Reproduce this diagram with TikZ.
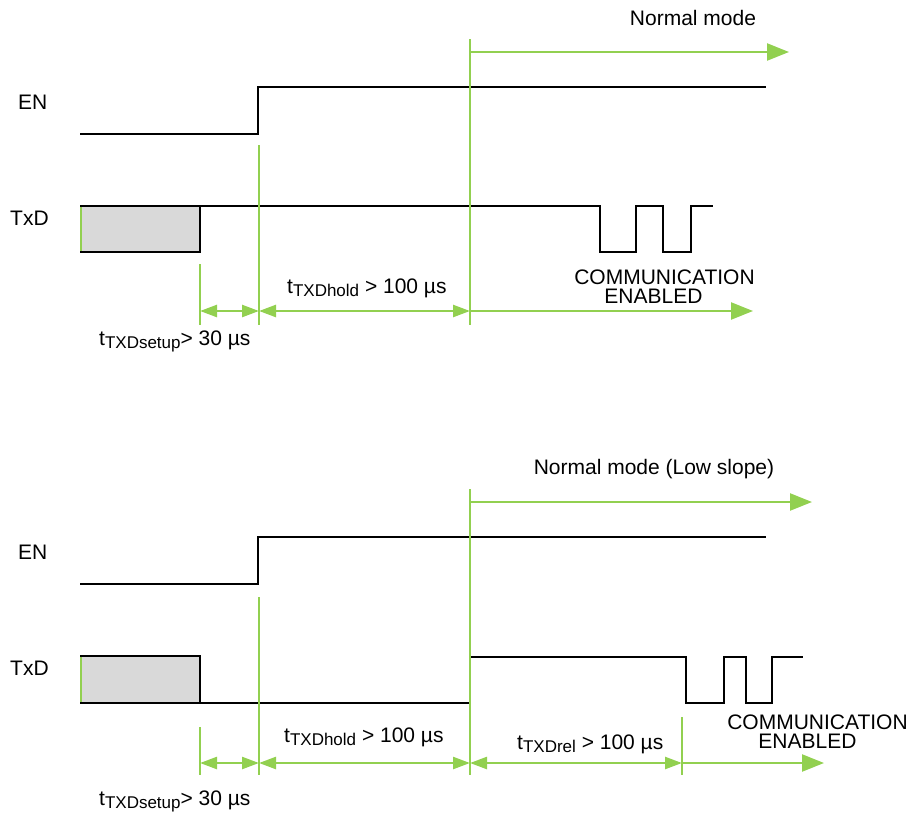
\documentclass[tikz,border=0pt]{standalone}
\usepackage{fontspec}
\setmainfont{Liberation Sans}
\usetikzlibrary{arrows.meta}
\definecolor{grn}{RGB}{146,208,80}
\definecolor{boxgray}{RGB}{217,217,217}
\newcommand{\subtx}[1]{\raisebox{-3.5pt}{\fontsize{17}{20}\selectfont #1}}
\begin{document}
\begin{tikzpicture}[x=1pt,y=-1pt,
  sig/.style={draw=black,line width=2.2pt,line join=miter},
  gline/.style={draw=grn,line width=2.4pt},
  dimarr/.style={draw=grn,line width=2.4pt,{Triangle[length=17pt,width=12pt]}-{Triangle[length=17pt,width=12pt]}},
  bigarr/.style={draw=grn,line width=2.4pt,-{Triangle[length=22pt,width=17pt]}},
  lbl/.style={font=\fontsize{21}{25}\selectfont,inner sep=0pt},
  tbox/.style={fill=boxgray,draw=none}]
\path[use as bounding box] (0,0) rectangle (916,817);

% ================= TOP PANEL =================
\coordinate (tm1a) at (200,264); \coordinate (tm1b) at (200,325);
\coordinate (tm2a) at (259,145); \coordinate (tm2b) at (259,325);
\coordinate (tm3a) at (470,39);  \coordinate (tm3b) at (470,325);
\coordinate (td1) at (200,311); \coordinate (td2) at (259,311);
\coordinate (td3) at (470,311); \coordinate (td4) at (753,311);
\coordinate (tn1) at (470,52);  \coordinate (tn2) at (789,52);

\node[lbl,anchor=west] (tEN) at (18,102) {EN};
\node[lbl,anchor=west] (tTxD) at (10,218) {TxD};
\node[lbl,anchor=base] (tNM) at (693,25) {Normal mode};
\node[lbl,anchor=base west] (tHold) at (287,293) {t\subtx{TXDhold} > 100 µs};
\node[lbl,anchor=base west] (tSetup) at (99,345) {t\subtx{TXDsetup}> 30 µs};
\node[lbl,anchor=base] (tCom1) at (664.5,284) {COMMUNICATION};
\node[lbl,anchor=base] (tCom2) at (653.5,303) {ENABLED};

\fill[tbox] (80,206) rectangle (200,252);
\draw[sig] (80,134) -- (258,134) -- (258,87) -- (766,87);
\draw[sig] (80,252) -- (200,252) -- (200,206);
\draw[sig] (80,206) -- (600,206) -- (600,252) -- (636,252) -- (636,206) -- (663,206)
  -- (663,252) -- (691,252) -- (691,206) -- (713,206);
\draw[draw=grn,line width=1.6pt] (81,207) -- (81,251);

\draw[gline] (tm1a) -- (tm1b);
\draw[gline] (tm2a) -- (tm2b);
\draw[gline] (tm3a) -- (tm3b);
\draw[bigarr] (tn1) -- (tn2);
\draw[dimarr] (td1) -- (td2);
\draw[dimarr] (td2) -- (td3);
\draw[bigarr] (td3) -- (td4);

% ================= BOTTOM PANEL =================
\coordinate (bm1a) at (200,727); \coordinate (bm1b) at (200,775);
\coordinate (bm2a) at (259,597); \coordinate (bm2b) at (259,775);
\coordinate (bm3a) at (470,489); \coordinate (bm3b) at (470,775);
\coordinate (bm4a) at (682,717); \coordinate (bm4b) at (682,775);
\coordinate (bd1) at (200,763); \coordinate (bd2) at (259,763);
\coordinate (bd3) at (470,763); \coordinate (bd4) at (682,763);
\coordinate (bd5) at (824,763);
\coordinate (bn1) at (470,502); \coordinate (bn2) at (812,502);

\node[lbl,anchor=west] (bEN) at (18,552) {EN};
\node[lbl,anchor=west] (bTxD) at (10,668) {TxD};
\node[lbl,anchor=base] (bNM) at (654,474) {Normal mode (Low slope)};
\node[lbl,anchor=base west] (bHold) at (284,742) {t\subtx{TXDhold} > 100 µs};
\node[lbl,anchor=base west] (bSetup) at (99,805) {t\subtx{TXDsetup}> 30 µs};
\node[lbl,anchor=base west] (bRel) at (517,749) {t\subtx{TXDrel} > 100 µs};
\node[lbl,anchor=base] (bCom1) at (817.5,729) {COMMUNICATION};
\node[lbl,anchor=base] (bCom2) at (807.5,748) {ENABLED};

\fill[tbox] (80,656) rectangle (200,703);
\draw[sig] (80,584) -- (258,584) -- (258,537) -- (766,537);
\draw[sig] (80,656) -- (200,656) -- (200,703);
\draw[sig] (80,703) -- (470,703) -- (470,657) -- (686,657) -- (686,703) -- (724,703)
  -- (724,657) -- (746,657) -- (746,703) -- (772,703) -- (772,657) -- (803,657);
\draw[draw=grn,line width=1.6pt] (81,657) -- (81,702);

\draw[gline] (bm1a) -- (bm1b);
\draw[gline] (bm2a) -- (bm2b);
\draw[gline] (bm3a) -- (bm3b);
\draw[gline] (bm4a) -- (bm4b);
\draw[bigarr] (bn1) -- (bn2);
\draw[dimarr] (bd1) -- (bd2);
\draw[dimarr] (bd2) -- (bd3);
\draw[dimarr] (bd3) -- (bd4);
\draw[bigarr] (bd4) -- (bd5);
\end{tikzpicture}
\end{document}
